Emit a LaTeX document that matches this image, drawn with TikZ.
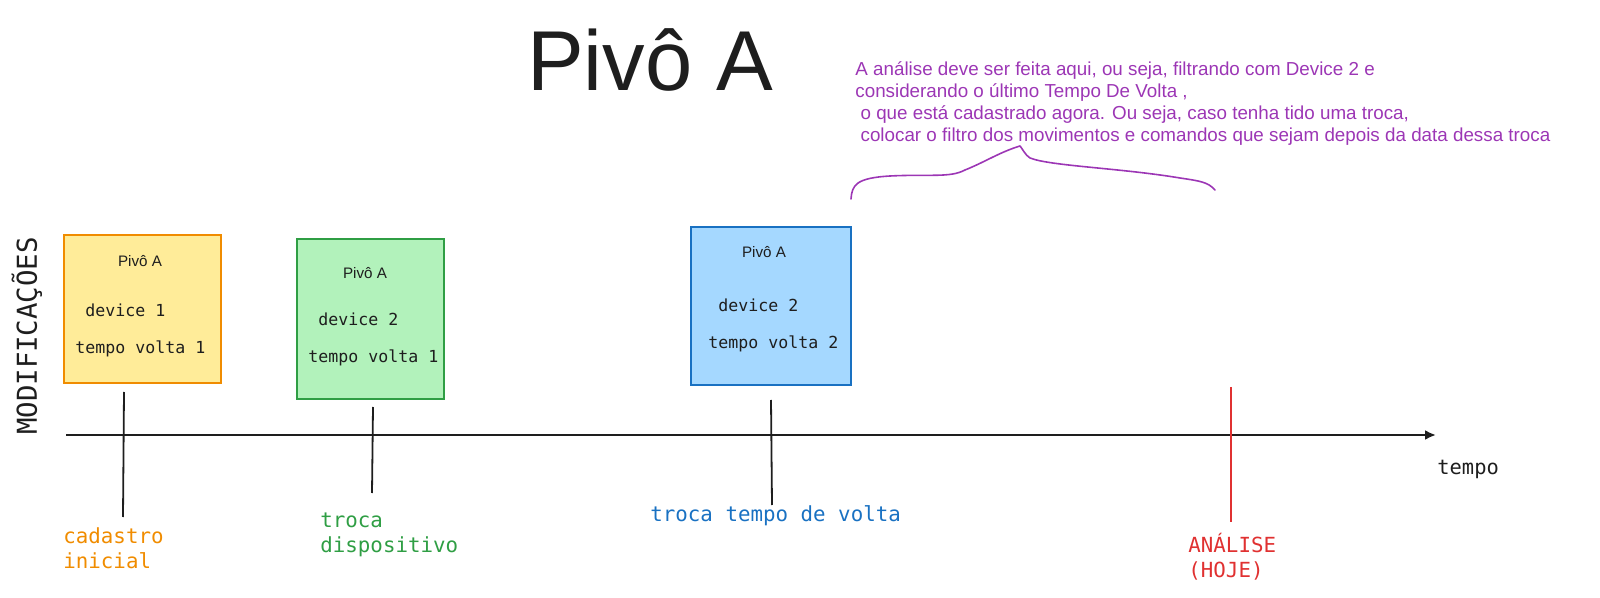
\documentclass[tikz,border=0pt]{standalone}
\usepackage{fontspec}
\setmainfont{Liberation Sans}
\setmonofont{DejaVu Sans Mono}
\usetikzlibrary{arrows.meta}
\definecolor{yfill}{HTML}{FFEC99}
\definecolor{ydraw}{HTML}{F08C00}
\definecolor{gfill}{HTML}{B2F2BB}
\definecolor{gdraw}{HTML}{2F9E44}
\definecolor{bfill}{HTML}{A5D8FF}
\definecolor{bdraw}{HTML}{1971C2}
\definecolor{rdraw}{HTML}{E03131}
\definecolor{pnote}{HTML}{9C36B5}
\definecolor{ink}{HTML}{1E1E1E}
\tikzset{
  card/.style={draw, line width=1pt, inner sep=0pt, anchor=north west},
  cardtitle/.style={font=\fontsize{7.6}{9}\selectfont, text=ink, inner sep=0pt},
  cardtext/.style={font=\ttfamily\fontsize{8.3}{10}\selectfont, text=ink, inner sep=0pt, anchor=west},
  lbl/.style={font=\ttfamily\fontsize{10.4}{12.6}\selectfont, inner sep=0pt, anchor=north west, align=left},
  tick/.style={line width=0.9pt, ink},
}
\begin{document}
\begin{tikzpicture}[x=0.5pt,y=-0.5pt]
\useasboundingbox (0,0) rectangle (1600,598);
% title
\node[font=\fontsize{42.5}{50}\selectfont, text=ink, inner sep=0pt] (title) at (650,60) {Pivô A};
% note
\node[font=\fontsize{9.4}{11}\selectfont, text=pnote, inner sep=0pt, anchor=north west, align=left] (note) at (855,61)
  {A análise deve ser feita aqui, ou seja, filtrando com Device 2 e\\
   considerando o último Tempo De Volta ,\\
   ~o que está cadastrado agora. Ou seja, caso tenha tido uma troca,\\
   ~colocar o filtro dos movimentos e comandos que sejam depois da data dessa troca};
% brace
\coordinate (brL) at (851,199);
\coordinate (brT) at (1020,146);
\coordinate (brR) at (1215,190);
\draw[pnote, line width=0.8pt, line cap=round, line join=round]
  (brL) .. controls (852,185) and (856,178) .. (890,176)
  .. controls (930,174) and (950,178) .. (965,170)
  .. controls (985,162) and (1000,152) .. (brT)
  .. controls (1022,148) and (1025,155) .. (1030,158)
  .. controls (1050,166) and (1120,168) .. (1180,178)
  .. controls (1200,181) and (1208,182) .. (brR);
% vertical label
\node[font=\ttfamily\fontsize{13.7}{16}\selectfont, text=ink, rotate=90, inner sep=0pt] (modif) at (27,336) {MODIFICAÇÕES};
% cards
\node[card, fill=yfill, draw=ydraw, minimum width=78.5pt, minimum height=74pt] (c1) at (63,234) {};
\node[card, fill=gfill, draw=gdraw, minimum width=73.5pt, minimum height=80pt] (c2) at (296,238) {};
\node[card, fill=bfill, draw=bdraw, minimum width=80pt, minimum height=79pt] (c3) at (690,226) {};
\node[cardtitle] (c1t) at (140,261) {Pivô A};
\node[cardtext] (c1d) at (85,310) {device 1};
\node[cardtext] (c1v) at (75,349) {tempo volta 1};
\node[cardtitle] (c2t) at (365,273) {Pivô A};
\node[cardtext] (c2d) at (318,319) {device 2};
\node[cardtext] (c2v) at (308,358) {tempo volta 1};
\node[cardtitle] (c3t) at (764,252) {Pivô A};
\node[cardtext] (c3d) at (718,305) {device 2};
\node[cardtext] (c3v) at (708,344) {tempo volta 2};
% axis
\coordinate (ax0) at (66,435);
\coordinate (ax1) at (1436,435);
\draw[line width=1.1pt, ink, -{Latex[length=5.5pt,width=5pt]}] (ax0) -- (ax1);
\node[font=\ttfamily\fontsize{10.2}{12}\selectfont, text=ink, inner sep=0pt, anchor=west] (tempo) at (1437,469) {tempo};
% ticks
\coordinate (t1a) at (124,392); \coordinate (t1b) at (123,517);
\coordinate (t2a) at (373,407); \coordinate (t2b) at (372,493);
\coordinate (t3a) at (771,400); \coordinate (t3b) at (772,505);
\coordinate (t4a) at (1231,387); \coordinate (t4b) at (1231,522);
\draw[tick] (t1a) -- (t1b);
\draw[tick] (t2a) -- (t2b);
\draw[tick] (t3a) -- (t3b);
\draw[line width=0.9pt, rdraw] (t4a) -- (t4b);
% labels
\node[lbl, text=ydraw] (l1) at (63,527) {cadastro\\inicial};
\node[lbl, text=gdraw] (l2) at (320,512) {troca\\dispositivo};
\node[lbl, text=bdraw] (l3) at (650,505) {troca tempo de volta};
\node[lbl, text=rdraw] (l4) at (1188,533) {ANÁLISE\\(HOJE)};
\end{tikzpicture}
\end{document}
